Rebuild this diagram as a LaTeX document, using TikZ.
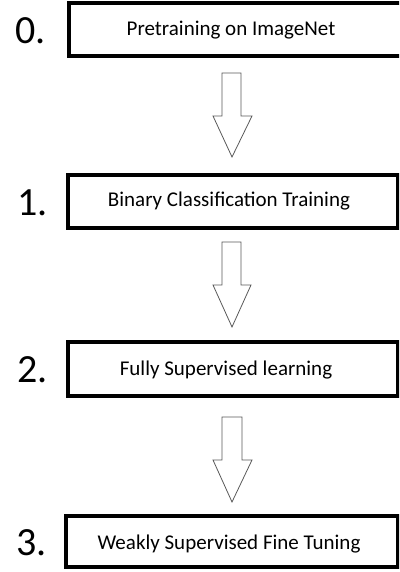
\documentclass[tikz,border=0pt]{standalone}
\usepackage{fontspec}
\setmainfont{Carlito}
\begin{document}
\begin{tikzpicture}[x=1pt,y=-1pt,
  stepbox/.style={draw=black,line width=3.2pt,minimum height=0pt,inner sep=0pt},
  numlabel/.style={font=\fontsize{40}{40}\selectfont,anchor=west,inner sep=0pt},
  boxtext/.style={font=\fontsize{21}{24}\selectfont},
  bigarrow/.style={draw=black!65,line width=0.8pt,line join=miter,fill=white}]
\useasboundingbox (0,0) rectangle (399,572);
\begin{scope}
\clip (0,0) rectangle (399,572);
\draw[stepbox] (69,3) rectangle (402,56);
\node[boxtext] (t0) at (231,30) {Pretraining on ImageNet};
\draw[stepbox] (68,175) rectangle (398,228);
\node[boxtext] (t1) at (229,201) {Binary Classification Training};
\draw[stepbox] (68,342) rectangle (398,396);
\node[boxtext] (t2) at (226,370) {Fully Supervised learning};
\draw[stepbox] (66,516) rectangle (398,567);
\node[boxtext] (t3) at (229,544) {Weakly Supervised Fine Tuning};
\end{scope}
\node[numlabel] (n0) at (15,31) {0.};
\node[numlabel] (n1) at (17,203) {1.};
\node[numlabel] (n2) at (17,370) {2.};
\node[numlabel] (n3) at (16,543) {3.};
% arrows
\draw[bigarrow] (222,73) -- (241,73) -- (241,116) -- (252,116) -- (232,157) -- (213,116) -- (222,116) -- cycle;
\draw[bigarrow] (222,242) -- (241,242) -- (241,285) -- (251,285) -- (232,327) -- (213,285) -- (222,285) -- cycle;
\draw[bigarrow] (222,417) -- (242,417) -- (242,460) -- (252,460) -- (232,502) -- (213,460) -- (222,460) -- cycle;
\end{tikzpicture}
\end{document}
